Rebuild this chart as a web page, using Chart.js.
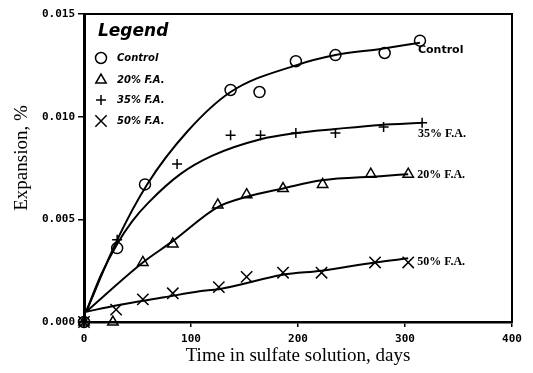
<!DOCTYPE html>
<html>
<head>
<meta charset="utf-8">
<script src="https://cdn.jsdelivr.net/npm/chart.js@4.4.0/dist/chart.umd.min.js"></script>
<style>
    html, body { margin: 0; padding: 0; background: #fff; }
    #expansionChart { display: block; }
</style>
</head>
<body>
<canvas id="expansionChart" width="533" height="373"></canvas>
<script>
// Axis ticks
const xTicks = [0, 100, 200, 300, 400];
const yTicks = [0, 0.005, 0.010, 0.015];
const yTickLabels = ['0.000', '0.005', '0.010', '0.015'];

// Measured points (days in sulfate solution, expansion %)
const controlDays = [0, 31, 57, 137, 164, 198, 235, 281, 314];
const controlExp = [0, 0.0036, 0.0067, 0.0113, 0.0112, 0.0127, 0.0130, 0.0131, 0.0137];

const fa20Days = [0, 27, 55, 83, 125, 152, 186, 223, 268, 303];
const fa20Exp = [0, 0, 0.0029, 0.0038, 0.0057, 0.0062, 0.0065, 0.0067, 0.0072, 0.0072];

const fa35Days = [0, 31, 87, 137, 165, 198, 235, 280, 316];
const fa35Exp = [0, 0.0040, 0.0077, 0.0091, 0.0091, 0.0092, 0.0092, 0.0095, 0.0097];

const fa50Days = [0, 30, 55, 83, 126, 152, 186, 222, 272, 303];
const fa50Exp = [0, 0.0006, 0.0011, 0.0014, 0.0017, 0.0022, 0.0024, 0.0024, 0.0029, 0.0029];

// Fitted curves
const controlFitDays = [2, 31, 59, 97, 137, 198, 235, 277, 314];
const controlFitExp = [0.0005, 0.0040, 0.0067, 0.0093, 0.0112, 0.0125, 0.0130, 0.0133, 0.0136];

const fa20FitDays = [2, 55, 82, 125, 152, 186, 222, 277, 303];
const fa20FitExp = [0.0005, 0.0029, 0.0039, 0.0056, 0.0061, 0.0065, 0.0069, 0.0071, 0.0072];

const fa35FitDays = [2, 16, 31, 45, 60, 90, 120, 165, 198, 235, 277, 316];
const fa35FitExp = [0.0005, 0.0023, 0.0038, 0.0049, 0.0058, 0.0072, 0.0081, 0.0089, 0.0092, 0.0094, 0.0096, 0.0097];

const fa50FitDays = [2, 30, 75, 108, 126, 186, 222, 272, 303];
const fa50FitExp = [0.0005, 0.0008, 0.0012, 0.0015, 0.0016, 0.0023, 0.0025, 0.0029, 0.0031];

// Series labels
const seriesNames = ['Control', '20% F.A.', '35% F.A.', '50% F.A.'];
const endLabels = ['Control', '20% F.A.', '35% F.A.', '50% F.A.'];

function toPoints(xs, ys) {
    return xs.map((x, i) => ({ x: x, y: ys[i] }));
}

function markerSet(label, xs, ys, style, radius) {
    return {
        label: label,
        data: toPoints(xs, ys),
        showLine: false,
        pointStyle: style,
        pointRadius: radius,
        pointBorderWidth: 1.5,
        borderColor: '#000',
        backgroundColor: 'rgba(0,0,0,0)',
        clip: false
    };
}

function curveSet(label, xs, ys) {
    return {
        label: label + ' fit',
        data: toPoints(xs, ys),
        showLine: true,
        pointRadius: 0,
        borderColor: '#000',
        borderWidth: 2,
        cubicInterpolationMode: 'monotone',
        clip: false
    };
}

const markerStyles = [
    { style: 'circle', radius: 5.5 },
    { style: 'triangle', radius: 6 },
    { style: 'cross', radius: 5 },
    { style: 'crossRot', radius: 8 }
];

const markerData = [
    [controlDays, controlExp],
    [fa20Days, fa20Exp],
    [fa35Days, fa35Exp],
    [fa50Days, fa50Exp]
];

// Offsets of the end labels from the last point of each series
const endLabelOffsets = [[-2, 9], [9, 1], [-4, 11], [9, -1]];

// Box round the plot area
const framePlugin = {
    id: 'frame',
    afterDraw(chart) {
        const { ctx, chartArea } = chart;
        ctx.save();
        ctx.strokeStyle = '#000';
        ctx.lineWidth = 2;
        ctx.strokeRect(chartArea.left, chartArea.top, chartArea.right - chartArea.left, chartArea.bottom - chartArea.top);
        ctx.restore();
    }
};

// Legend box in the upper left corner and end labels
const annotationPlugin = {
    id: 'annotations',
    afterDraw(chart) {
        const ctx = chart.ctx;
        const xScale = chart.scales.x;
        const yScale = chart.scales.y;
        ctx.save();
        ctx.fillStyle = '#000';
        ctx.strokeStyle = '#000';
        ctx.textBaseline = 'middle';
        ctx.textAlign = 'left';

        ctx.font = 'italic bold 17px "DejaVu Sans"';
        ctx.fillText('Legend', 98, 32);

        ctx.font = 'italic bold 10px "DejaVu Sans"';
        const rowY = [58, 80, 100, 121];
        seriesNames.forEach((name, i) => {
            // hollow symbols, like the plotted markers
            ctx.fillStyle = 'rgba(0,0,0,0)';
            ctx.strokeStyle = '#000';
            ctx.lineWidth = 1.5;
            Chart.helpers.drawPoint(ctx, {
                pointStyle: markerStyles[i].style,
                radius: markerStyles[i].radius,
                rotation: 0,
                borderWidth: 1.5
            }, 101, rowY[i]);
            ctx.fillStyle = '#000';
            ctx.fillText(name, 117, rowY[i]);
        });

        // Labels at the ends of the curves
        markerData.forEach((series, i) => {
            const xs = series[0];
            const ys = series[1];
            const px = xScale.getPixelForValue(xs[xs.length - 1]);
            const py = yScale.getPixelForValue(ys[ys.length - 1]);
            ctx.font = i === 0 ? 'bold 11px "DejaVu Sans"' : 'bold 12px "Liberation Serif"';
            ctx.fillText(endLabels[i], px + endLabelOffsets[i][0], py + endLabelOffsets[i][1]);
        });

        // Axis titles
        ctx.font = '19px "Liberation Serif"';
        ctx.textAlign = 'center';
        ctx.fillText('Time in sulfate solution, days', (chart.chartArea.left + chart.chartArea.right) / 2, 356);
        ctx.translate(22, 158);
        ctx.rotate(-Math.PI / 2);
        ctx.fillText('Expansion, %', 0, 0);
        ctx.restore();
    }
};

function buildDatasets() {
    const datasets = [];
    markerData.forEach((series, i) => {
        datasets.push(markerSet(seriesNames[i], series[0], series[1], markerStyles[i].style, markerStyles[i].radius));
    });
    datasets.push(curveSet('Control', controlFitDays, controlFitExp));
    datasets.push(curveSet('20% F.A.', fa20FitDays, fa20FitExp));
    datasets.push(curveSet('35% F.A.', fa35FitDays, fa35FitExp));
    datasets.push(curveSet('50% F.A.', fa50FitDays, fa50FitExp));
    return datasets;
}

const tickFont = { family: '"DejaVu Sans Mono"', size: 11, weight: 'bold' };

const ctx = document.getElementById('expansionChart').getContext('2d');
window.expansionChart = new Chart(ctx, {
    type: 'scatter',
    data: { datasets: buildDatasets() },
    options: {
        responsive: false,
        devicePixelRatio: 1,
        animation: false,
        layout: { padding: { left: 0, right: 21, top: 14, bottom: 0 } },
        plugins: {
            legend: { display: false },
            tooltip: { enabled: false }
        },
        scales: {
            x: {
                type: 'linear',
                min: 0,
                max: 400,
                afterBuildTicks: scale => { scale.ticks = xTicks.map(v => ({ value: v })); },
                afterFit: scale => { scale.height = 51; },
                ticks: { color: '#000', font: tickFont, padding: 6, maxRotation: 0 },
                grid: { drawOnChartArea: false, drawTicks: true, tickLength: 5, color: '#000', lineWidth: 1.5 },
                border: { color: '#000', width: 2.5 }
            },
            y: {
                type: 'linear',
                min: 0,
                max: 0.015,
                afterBuildTicks: scale => { scale.ticks = yTicks.map(v => ({ value: v })); },
                afterFit: scale => { scale.width = 84; },
                ticks: {
                    color: '#000',
                    font: tickFont,
                    padding: 3,
                    callback: (value, index) => yTickLabels[index]
                },
                grid: { drawOnChartArea: false, drawTicks: true, tickLength: 6, color: '#000', lineWidth: 1.5 },
                border: { color: '#000', width: 3 }
            }
        }
    },
    plugins: [framePlugin, annotationPlugin]
});
</script>
</body>
</html>
